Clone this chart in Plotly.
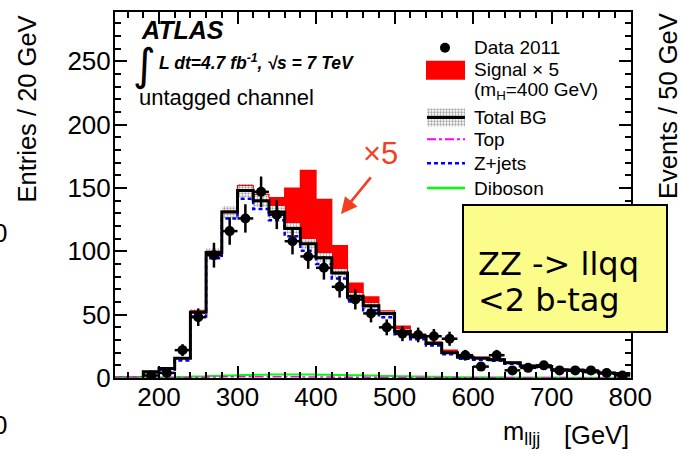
import plotly.graph_objects as go

# ---------------- data (20 GeV bins, from 140 to 800 GeV) ----------------
bin_edges = list(range(140, 801, 20))
bin_centers = [e + 10 for e in bin_edges[:-1]]

total_bg = [0, 0, 5, 7.6, 15.5, 52, 99, 131, 148, 140, 131, 118, 106, 95, 83, 64.5,
            57, 51, 37, 32.5, 27.3, 20, 16.3, 15.5, 14.5, 12, 9.5, 9, 6.5, 6.3, 5, 4, 3.5]
bg_err = [0, 0, 0.4, 0.5, 0.9, 2.2, 3.8, 4.8, 5.3, 5.0, 4.7, 4.3, 3.9, 3.5, 3.1, 2.5,
          2.3, 2.0, 1.5, 1.4, 1.2, 0.9, 0.8, 0.8, 0.7, 0.6, 0.5, 0.5, 0.4, 0.4, 0.3, 0.3, 0.3]
signal_x5 = [0, 0, 0.3, 0.4, 0.5, 1, 1, 1, 4, 5, 11.5, 32, 58, 46, 21.6, 10.5,
             7, 2, 4, 2, 1.3, 2, 1, 1, 0.8, 0.5, 0.4, 0.3, 0.3, 0.2, 0.2, 0.2, 0.1]
zjets = [0, 0, 4.3, 6.6, 13.8, 48.6, 94.5, 126, 141.5, 133.5, 124.5, 112, 100.5, 90, 78.5, 60.5,
         53.5, 48, 34.6, 30.5, 25.7, 18.7, 15.2, 14.5, 13.6, 11.2, 8.8, 8.4, 6, 5.9, 4.7, 3.7, 3.2]
diboson = [0, 0, 0.3, 0.5, 0.8, 1.2, 1.6, 2.0, 2.4, 2.6, 2.8, 2.8, 2.7, 2.5, 2.3, 2.1,
           1.9, 1.6, 1.3, 1.1, 0.9, 0.8, 0.6, 0.5, 0.5, 0.4, 0.4, 0.3, 0.3, 0.2, 0.2, 0.2, 0.1]
top = [0, 0, 0.1, 0.2, 0.3, 0.5, 0.7, 0.9, 1.0, 1.0, 1.0, 0.9, 0.8, 0.7, 0.6, 0.5,
       0.5, 0.4, 0.3, 0.3, 0.2, 0.2, 0.2, 0.1, 0.1, 0.1, 0.1, 0.1, 0.1, 0.05, 0.05, 0.05, 0.05]
data_2011 = [None, None, 2, 4, 22, 48, 97, 116, 126, 147, 129, 108, 96, 87, 72, 62,
             51, 40, 35, 34, 33, 31, 18, 9, 18, 6, 8, 10, 6, 6, 6, 4, 2]
data_err = [None, None, 1.4, 2.0, 4.7, 6.9, 9.8, 10.8, 11.2, 12.1, 11.4, 10.4, 9.8, 9.3, 8.5, 7.9,
            7.1, 6.3, 5.9, 5.8, 5.7, 5.6, 4.2, 3.0, 4.2, 2.4, 2.8, 3.2, 2.4, 2.4, 2.4, 2.0, 1.4]
half_width = [10] * len(bin_centers)

x_ticks = [200, 300, 400, 500, 600, 700, 800]
y_ticks = [0, 50, 100, 150, 200, 250]

FONT = "Liberation Sans, Arial, Helvetica, sans-serif"

# frame in pixels (for placing text)
L, R, T, B = 115, 631, 10, 378
W, H = R - L, B - T
def px(x): return (x - L) / W
def py(y): return (B - y) / H

def step(vals):
    return list(vals) + [vals[-1]]

fig = go.Figure()

# signal x5 stacked on top of background
fig.add_trace(go.Bar(x=bin_centers, y=signal_x5, base=total_bg, width=20,
                     marker=dict(color="#ff0000", line=dict(width=0)), showlegend=False))
sig_top = [b + s for b, s in zip(total_bg, signal_x5)]
fig.add_trace(go.Scatter(x=bin_edges, y=step(sig_top), mode="lines", line_shape="hv",
                         line=dict(color="#ff0000", width=1.2), showlegend=False))
# background uncertainty band (dotted hatch)
band_lo = [b - e for b, e in zip(total_bg, bg_err)]
band_h = [2 * e for e in bg_err]
fig.add_trace(go.Bar(x=bin_centers, y=band_h, base=band_lo, width=20,
                     marker=dict(color="white", line=dict(width=0),
                                 pattern=dict(shape=".", fgcolor="#444", bgcolor="white",
                                              size=3, solidity=0.45)),
                     showlegend=False))
# components
fig.add_trace(go.Scatter(x=bin_edges, y=step(zjets), mode="lines", line_shape="hv",
                         line=dict(color="#0000ff", width=2.5, dash="4px,3px"), showlegend=False))
fig.add_trace(go.Scatter(x=bin_edges, y=step(total_bg), mode="lines", line_shape="hv",
                         line=dict(color="black", width=3), showlegend=False))
fig.add_trace(go.Scatter(x=bin_edges, y=step(diboson), mode="lines", line_shape="hv",
                         line=dict(color="#00ff00", width=2), showlegend=False))
fig.add_trace(go.Scatter(x=bin_edges, y=step(top), mode="lines", line_shape="hv",
                         line=dict(color="#ff00ff", width=1.5, dash="dashdot"), showlegend=False))
# data
fig.add_trace(go.Scatter(x=bin_centers, y=data_2011, mode="markers",
                         marker=dict(color="black", size=10),
                         error_y=dict(type="data", array=data_err, color="black", thickness=2.5, width=0),
                         error_x=dict(type="data", array=half_width, color="black", thickness=2.5, width=0),
                         showlegend=False))

# ---------------- legend drawn in pixel space on overlay axes ----------------
leg = dict(xaxis="x2", yaxis="y2", showlegend=False, hoverinfo="skip")
fig.add_trace(go.Scatter(x=[445], y=[46], mode="markers", marker=dict(color="black", size=10), **leg))
fig.add_trace(go.Scatter(x=[426, 465, 465, 426, 426], y=[59, 59, 78, 78, 59], mode="lines",
                         fill="toself", fillcolor="#ff0000", line=dict(width=0, color="#ff0000"), **leg))
fig.add_trace(go.Scatter(x=[427, 465, 465, 427, 427], y=[107, 107, 125, 125, 107], mode="lines",
                         fill="toself", fillcolor="white",
                         fillpattern=dict(shape=".", fgcolor="#444", bgcolor="white", size=3, solidity=0.45),
                         line=dict(width=0, color="white"), **leg))
fig.add_trace(go.Scatter(x=[427, 465], y=[116, 116], mode="lines", line=dict(color="black", width=3), **leg))
fig.add_trace(go.Scatter(x=[427, 465], y=[138, 138], mode="lines",
                         line=dict(color="#ff00ff", width=2, dash="dashdot"), **leg))
fig.add_trace(go.Scatter(x=[427, 465], y=[162, 162], mode="lines",
                         line=dict(color="#0000ff", width=2.5, dash="4px,3px"), **leg))
fig.add_trace(go.Scatter(x=[427, 465], y=[187, 187], mode="lines",
                         line=dict(color="#00ff00", width=2.5), **leg))

ann = []
def text(t, x, y, size, xanchor="left", yanchor="middle", color="black", family=FONT, angle=0):
    ann.append(dict(text=t, x=px(x), y=py(y), xref="paper", yref="paper", showarrow=False,
                    xanchor=xanchor, yanchor=yanchor, textangle=angle,
                    font=dict(size=size, color=color, family=family)))

text("<b><i>ATLAS</i></b>", 139, 28, 25)
text("∫", 144, 63, 44, xanchor="center", family="DejaVu Sans")
text("<b><i>L dt=4.7 fb<sup>-1</sup>, √s = 7 TeV</i></b>", 157, 60, 17.5)
text("untagged channel", 137, 96, 22)

for t, y in [("Data 2011", 46), ("Signal × 5", 68), ("(m<sub>H</sub>=400 GeV)", 89),
             ("Total BG", 116), ("Top", 138), ("Z+jets", 162), ("Diboson", 187)]:
    text(t, 472, y, 19)

# axis titles
text("Entries / 20 GeV", 27, 12, 25.5, xanchor="center", yanchor="top", angle=-90)
text("m<sub>lljj</sub>", 501, 433, 25.5)
text("[GeV]", 631, 435, 25.5, xanchor="right")

# pieces of neighbouring panels
text("0", 8.5, 232, 26, xanchor="right")
text("0", 8.5, 425, 26, xanchor="right")
text("Events / 50 GeV", 668, 9, 25.5, xanchor="center", yanchor="top", angle=-90)

# x5 label and arrow
text("×5", 380, 152, 31, xanchor="center", color="#f53d1f")
ann.append(dict(text="", x=px(341), y=py(213), xref="paper", yref="paper",
                showarrow=True, ax=31, ay=-38, arrowhead=2, arrowsize=1.3, arrowwidth=2.5,
                arrowcolor="#f53d1f"))

# yellow box
ann.append(dict(text=" ", x=px(565), y=py(267.5), xref="paper", yref="paper", showarrow=False,
                xanchor="center", yanchor="middle", width=202, height=125,
                bgcolor="#fcfc8a", bordercolor="black", borderwidth=2, borderpad=0))
text("ZZ -> llqq", 476, 263, 32, family="Comic Sans MS, DejaVu Sans")
text("<2 b-tag", 476, 300, 32, family="Comic Sans MS, DejaVu Sans")

axis_common = dict(showline=True, linewidth=2, linecolor="black", mirror="ticks",
                   ticks="inside", tickcolor="black", tickwidth=1.5, showgrid=False, zeroline=False,
                   tickfont=dict(size=26, color="black", family=FONT))

fig.update_layout(
    width=680, height=454,
    margin=dict(l=L, r=680 - R, t=T, b=454 - B, pad=0),
    paper_bgcolor="white", plot_bgcolor="white",
    barmode="overlay", bargap=0,
    showlegend=False,
    xaxis=dict(range=[144, 801], tickvals=x_ticks, ticklen=12, ticklabelstandoff=-5,
               minor=dict(ticks="inside", ticklen=6, dtick=20, tick0=0, tickcolor="black", tickwidth=1.5),
               **axis_common),
    yaxis=dict(range=[0, 289], tickvals=y_ticks, ticklen=12, ticklabelstandoff=-3,
               minor=dict(ticks="inside", ticklen=6, dtick=10, tick0=0, tickcolor="black", tickwidth=1.5),
               **axis_common),
    xaxis2=dict(overlaying="x", anchor="y2", range=[L, R], visible=False),
    yaxis2=dict(overlaying="y", anchor="x2", range=[B, T], visible=False),
    annotations=ann,
)

fig.write_html("out.html")
